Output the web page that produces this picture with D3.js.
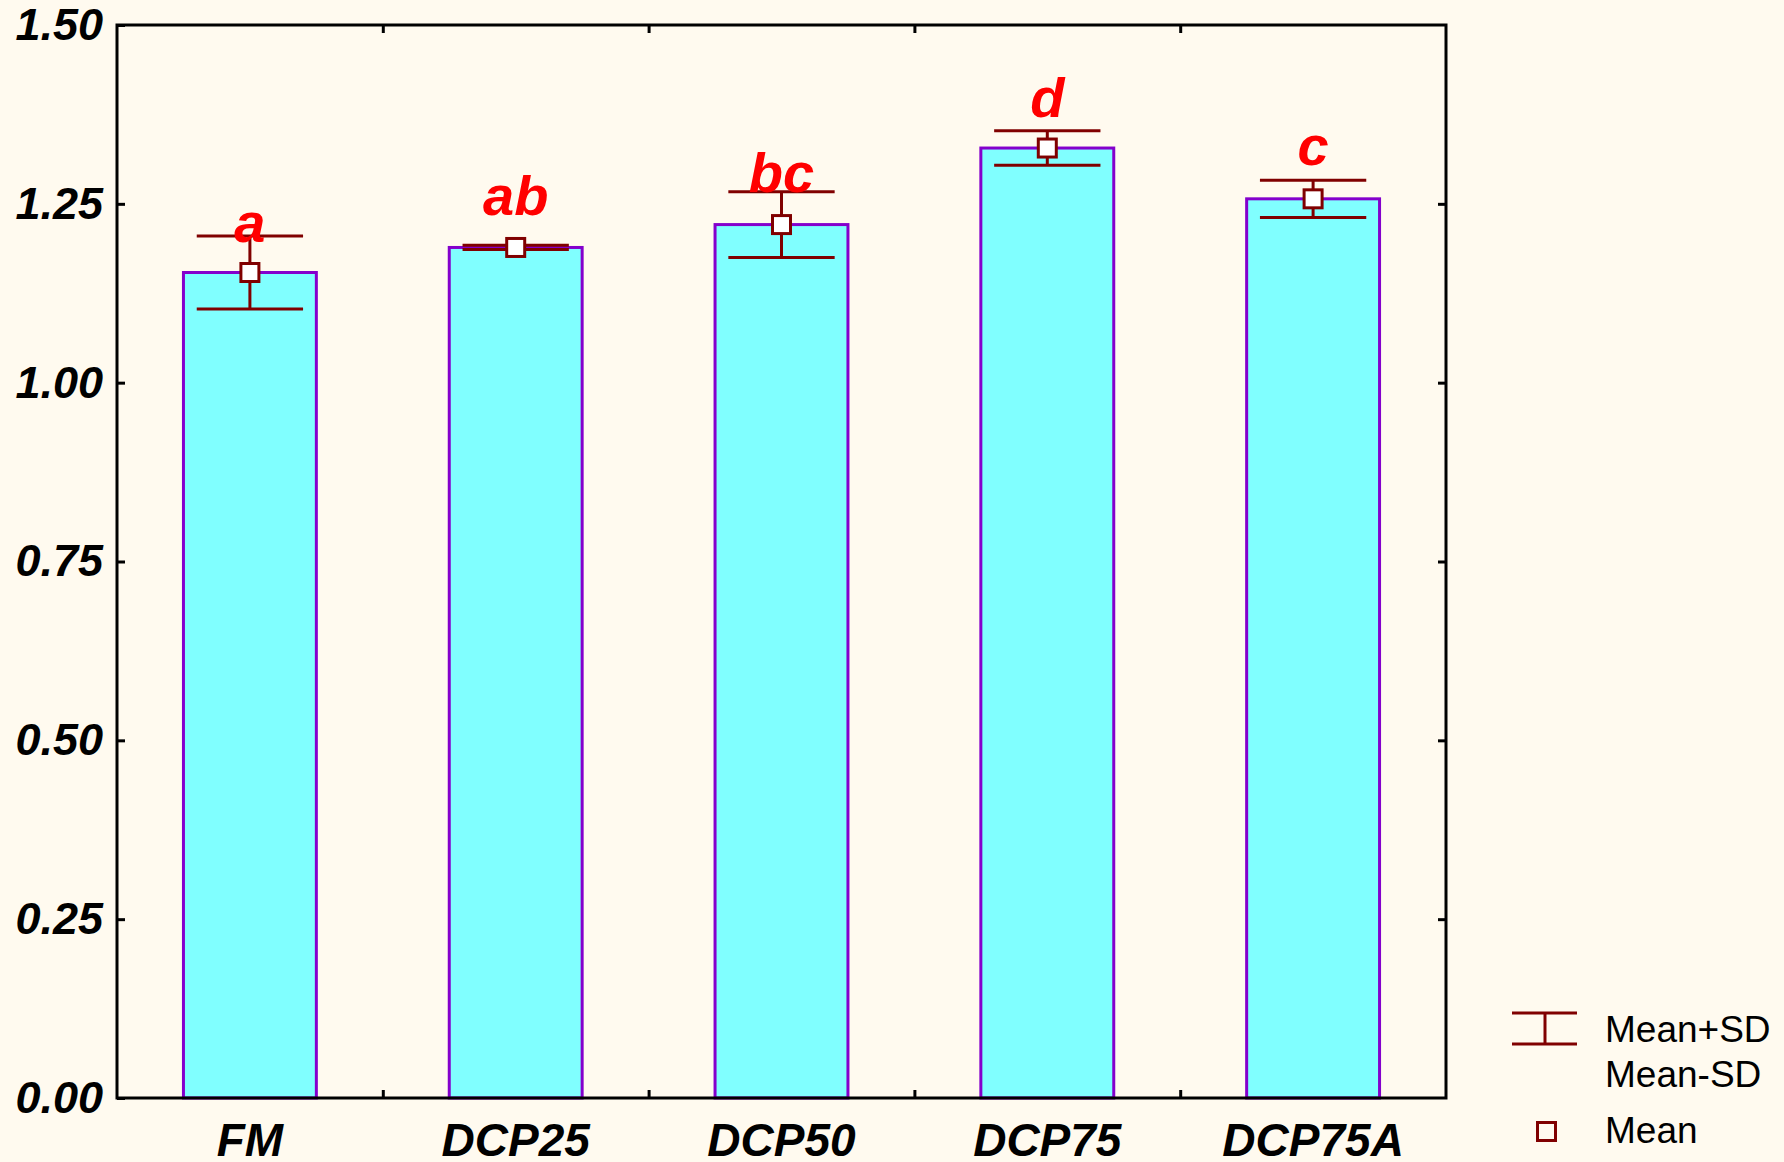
<!DOCTYPE html>
<html>
<head>
<meta charset="utf-8">
<script src="https://cdn.jsdelivr.net/npm/d3@7"></script>
<style>
  html, body { margin: 0; padding: 0; background: #fffaef; }
  svg { display: block; }
</style>
</head>
<body>
<div id="chart"></div>
<script>
// data
const groups = ['FM', 'DCP25', 'DCP50', 'DCP75', 'DCP75A'];
const means = [1.154, 1.189, 1.221, 1.328, 1.257];
const sds = [0.051, 0.003, 0.046, 0.024, 0.026];
const letters = ['a', 'ab', 'bc', 'd', 'c'];
// baseline of each letter, in data units
const letterAt = [1.197, 1.234, 1.267, 1.372, 1.304];
const yTicks = [0, 0.25, 0.5, 0.75, 1.0, 1.25, 1.5];

const width = 1784, height = 1162;
const margin = { top: 25, right: 338, bottom: 64, left: 117 };
const innerW = width - margin.left - margin.right;
const innerH = height - margin.top - margin.bottom;

const darkRed = '#800000';
const font = "'Liberation Sans', Arial, sans-serif";

const svg = d3.select('#chart').append('svg')
  .attr('width', width)
  .attr('height', height)
  .style('background', '#fffaef');

const g = svg.append('g')
  .attr('transform', `translate(${margin.left},${margin.top})`);

// scales
const x = d3.scaleBand()
  .domain(groups)
  .range([0, innerW])
  .paddingInner(0.5)
  .paddingOuter(0.25);
const xEdge = d3.scaleLinear().domain([0, groups.length]).range([0, innerW]);
const y = d3.scaleLinear().domain([0, 1.5]).range([innerH, 0]);

// bars
g.append('g').selectAll('rect')
  .data(groups)
  .join('rect')
  .attr('x', d => x(d))
  .attr('y', (d, i) => y(means[i]))
  .attr('width', x.bandwidth())
  .attr('height', (d, i) => innerH - y(means[i]))
  .attr('fill', '#80ffff')
  .attr('stroke', '#8400cc')
  .attr('stroke-width', 3);

// error bars
const capHalf = x.bandwidth() * 0.4;
const eb = g.append('g').selectAll('g')
  .data(groups)
  .join('g')
  .attr('transform', d => `translate(${x(d) + x.bandwidth() / 2},0)`)
  .attr('stroke', darkRed)
  .attr('stroke-width', 3);
eb.append('line')
  .attr('y1', (d, i) => y(means[i] + sds[i]))
  .attr('y2', (d, i) => y(means[i] - sds[i]));
eb.append('line')
  .attr('x1', -capHalf).attr('x2', capHalf)
  .attr('y1', (d, i) => y(means[i] + sds[i]))
  .attr('y2', (d, i) => y(means[i] + sds[i]));
eb.append('line')
  .attr('x1', -capHalf).attr('x2', capHalf)
  .attr('y1', (d, i) => y(means[i] - sds[i]))
  .attr('y2', (d, i) => y(means[i] - sds[i]));
eb.append('rect')
  .attr('x', -9).attr('width', 18)
  .attr('y', (d, i) => y(means[i]) - 9).attr('height', 18)
  .attr('fill', '#ffffff');

// significance letters
g.append('g').selectAll('text')
  .data(groups)
  .join('text')
  .attr('x', d => x(d) + x.bandwidth() / 2)
  .attr('y', (d, i) => y(letterAt[i]))
  .attr('text-anchor', 'middle')
  .style('font-family', font)
  .style('font-weight', 'bold')
  .style('font-style', 'italic')
  .style('font-size', '56px')
  .attr('fill', '#ff0000')
  .text((d, i) => letters[i]);

// axes
function styleAxis(sel) {
  sel.select('.domain').remove();
  sel.selectAll('line').attr('stroke', '#000').attr('stroke-width', 3);
  sel.selectAll('text')
    .style('font-family', font)
    .style('font-weight', 'bold')
    .style('font-style', 'italic')
    .style('font-size', '45px')
    .attr('fill', '#000');
}

g.append('g')
  .call(d3.axisLeft(y).tickValues(yTicks).tickFormat(d3.format('.2f'))
    .tickSizeInner(-8).tickSizeOuter(0).tickPadding(14))
  .call(styleAxis);

g.append('g')
  .attr('transform', `translate(${innerW},0)`)
  .call(d3.axisRight(y).tickValues(yTicks.slice(1, -1)).tickFormat('')
    .tickSizeInner(-8).tickSizeOuter(0))
  .call(styleAxis);

g.append('g')
  .attr('transform', `translate(0,${innerH})`)
  .call(d3.axisBottom(xEdge).tickValues([1, 2, 3, 4]).tickFormat('')
    .tickSizeInner(-8).tickSizeOuter(0))
  .call(styleAxis);

g.append('g')
  .attr('transform', `translate(0,0)`)
  .call(d3.axisTop(xEdge).tickValues([1, 2, 3, 4]).tickFormat('')
    .tickSizeInner(-8).tickSizeOuter(0))
  .call(styleAxis);

g.append('g')
  .attr('transform', `translate(0,${innerH})`)
  .call(d3.axisBottom(x).tickSize(0).tickPadding(25))
  .call(styleAxis)
  .selectAll('text')
  .style('font-size', '46px')
  .attr('dy', '0.71em');

// frame
g.append('rect')
  .attr('width', innerW)
  .attr('height', innerH)
  .attr('fill', 'none')
  .attr('stroke', '#000')
  .attr('stroke-width', 3);

// legend
const lg = svg.append('g').attr('transform', 'translate(1512,0)');
lg.append('g').attr('stroke', darkRed).attr('stroke-width', 3)
  .call(s => {
    s.append('line').attr('x1', 0).attr('x2', 65).attr('y1', 1013).attr('y2', 1013);
    s.append('line').attr('x1', 0).attr('x2', 65).attr('y1', 1044).attr('y2', 1044);
    s.append('line').attr('x1', 33).attr('x2', 33).attr('y1', 1013).attr('y2', 1044);
    s.append('rect').attr('x', 25.5).attr('y', 1122.5).attr('width', 18).attr('height', 18)
      .attr('fill', 'none');
  });
const legendText = [['Mean+SD', 1042], ['Mean-SD', 1087], ['Mean', 1143]];
lg.selectAll('text.lbl')
  .data(legendText)
  .join('text')
  .attr('class', 'lbl')
  .attr('x', 93)
  .attr('y', d => d[1])
  .style('font-family', font)
  .style('font-size', '37px')
  .attr('fill', '#000')
  .text(d => d[0]);
</script>
</body>
</html>
